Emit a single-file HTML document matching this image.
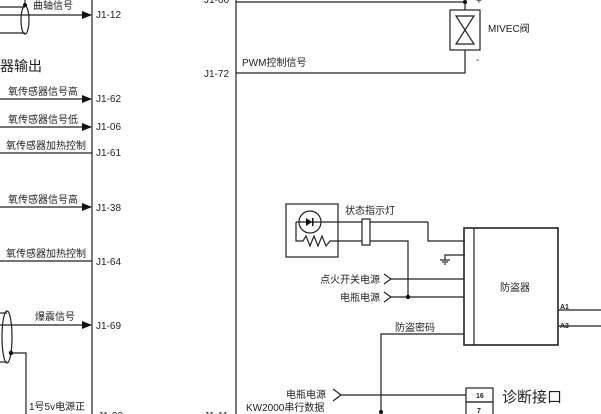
<!DOCTYPE html>
<html><head><meta charset="utf-8"><style>
html,body{margin:0;padding:0;background:#fff;}
svg{display:block;}
text{font-family:"Liberation Sans","Noto Sans CJK SC",sans-serif;fill:#222;}
</style></head><body>
<svg width="601" height="414" viewBox="0 0 601 414" xmlns="http://www.w3.org/2000/svg">
<defs><marker id="a" markerWidth="10" markerHeight="8" refX="9" refY="4" orient="auto" markerUnits="userSpaceOnUse"><path d="M0,0 L10,4 L0,8 Z" fill="#111"/></marker></defs>
<g stroke="#222" stroke-width="1.2" fill="none">
<line x1="92" y1="0" x2="92" y2="414"/>
<line x1="236" y1="0" x2="236" y2="414"/>
<line x1="0" y1="7" x2="25" y2="7"/>
<line x1="0" y1="33" x2="25" y2="33"/>
<line x1="0" y1="15" x2="91" y2="15" marker-end="url(#a)"/>
<ellipse cx="25" cy="20" rx="4" ry="14"/>
<line x1="25" y1="0" x2="25" y2="5"/>
<line x1="0" y1="99" x2="91" y2="99" marker-end="url(#a)"/>
<line x1="0" y1="127" x2="91" y2="127" marker-end="url(#a)"/>
<line x1="0" y1="153" x2="92" y2="153"/>
<line x1="0" y1="207" x2="91" y2="207" marker-end="url(#a)"/>
<line x1="0" y1="261" x2="92" y2="261"/>
<line x1="0" y1="313" x2="7" y2="313"/>
<line x1="0" y1="362" x2="7" y2="362"/>
<line x1="0" y1="325" x2="91" y2="325" marker-end="url(#a)"/>
<ellipse cx="7" cy="337" rx="5" ry="26"/>
<polyline points="11,353 26,353 26,414"/>
<line x1="236" y1="2" x2="465" y2="2"/>
<line x1="465" y1="2" x2="465" y2="10"/>
<rect x="450" y="10" width="30" height="40"/>
<path d="M456,16 L474,16 L456,44 L474,44 Z"/>
<polyline points="465,50 465,73 236,73"/>
<rect x="286" y="204" width="52" height="53"/>
<circle cx="310" cy="222" r="11"/>
<line x1="296" y1="222" x2="428" y2="222"/>
<polyline points="428,222 428,241 465,241"/>
<polyline points="296,222 296,241 303,241 306,236 310,246 314,236 318,246 322,236 326,246 330,241 408,241 408,297"/>
<rect x="362" y="219" width="8" height="26" fill="#fff"/>
<polyline points="465,255 445,255 445,260"/>
<line x1="440" y1="260" x2="450" y2="260"/>
<line x1="442" y1="262" x2="448" y2="262"/>
<line x1="444" y1="264" x2="446" y2="264"/>
<rect x="464" y="228" width="94" height="117" stroke-width="1.6"/>
<line x1="474" y1="228" x2="474" y2="345"/>
<polyline points="384,274 391,279 384,284"/>
<line x1="391" y1="279" x2="464" y2="279"/>
<polyline points="384,292 391,297 384,302"/>
<line x1="391" y1="297" x2="464" y2="297"/>
<line x1="558" y1="310" x2="601" y2="310"/>
<line x1="558" y1="326" x2="601" y2="326"/>
<polyline points="464,334 381,334 381,414"/>
<polyline points="333,389 341,395 333,401"/>
<line x1="341" y1="395" x2="466" y2="395"/>
<rect x="466" y="388" width="27" height="14"/>
<rect x="466" y="402" width="27" height="14"/>
</g>
<g fill="#111">
<circle cx="25" cy="5" r="2"/>
<circle cx="11" cy="353" r="2.2"/>
<circle cx="465" cy="2" r="2"/>
<circle cx="408" cy="297" r="2.2"/>
<circle cx="381" cy="412" r="2"/>
<path d="M306,218 L306,226 L312,222 Z"/>
<rect x="312" y="218" width="1.5" height="8"/>
</g>
<g font-size="10">
<text x="33" y="9">曲轴信号</text>
<text x="96" y="18">J1-12</text>
<text x="8" y="95">氧传感器信号高</text>
<text x="96" y="102">J1-62</text>
<text x="8" y="123">氧传感器信号低</text>
<text x="96" y="130">J1-06</text>
<text x="6" y="149">氧传感器加热控制</text>
<text x="96" y="156">J1-61</text>
<text x="8" y="203">氧传感器信号高</text>
<text x="96" y="211">J1-38</text>
<text x="6" y="257">氧传感器加热控制</text>
<text x="96" y="265">J1-64</text>
<text x="35" y="320">爆震信号</text>
<text x="96" y="329">J1-69</text>
<text x="29" y="410">1号5v电源正</text>
<text x="98" y="419">J1-30</text>
<text x="204" y="419">J1-11</text>
<text x="204" y="3">J1-66</text>
<text x="476" y="4">+</text>
<text x="488" y="32">MIVEC阀</text>
<text x="476" y="63">-</text>
<text x="242" y="66">PWM控制信号</text>
<text x="204" y="77">J1-72</text>
<text x="345" y="214">状态指示灯</text>
<text x="380" y="283" text-anchor="end">点火开关电源</text>
<text x="380" y="301" text-anchor="end">电瓶电源</text>
<text x="500" y="291">防盗器</text>
<text x="395" y="331">防盗密码</text>
<text x="326" y="398" text-anchor="end">电瓶电源</text>
<text x="246" y="411">KW2000串行数据</text>
</g>
<g font-size="7" font-weight="bold">
<text x="560" y="309">A1</text>
<text x="560" y="328">A3</text>
<text x="476" y="398">16</text>
<text x="477" y="413">7</text>
</g>
<text x="0" y="71" font-size="14">器输出</text>
<text x="502" y="402" font-size="15">诊断接口</text>
</svg>
</body></html>
